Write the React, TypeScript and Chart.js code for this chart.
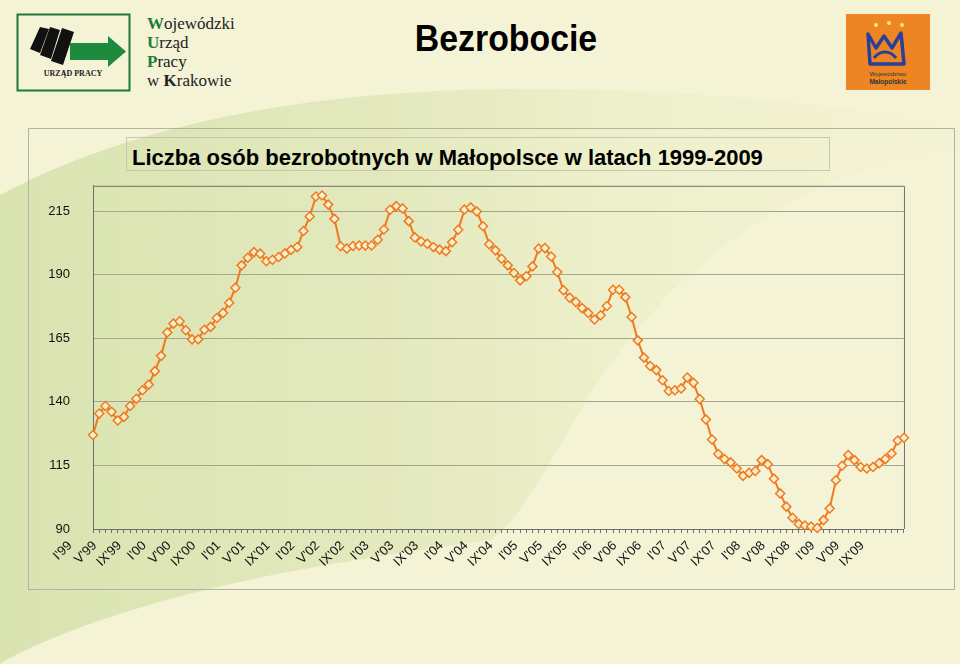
import React, { useEffect, useRef } from "react";
import { Chart, registerables } from "chart.js";

Chart.register(...registerables);

// ---- data ----
const months = ["I", "II", "III", "IV", "V", "VI", "VII", "VIII", "IX", "X", "XI", "XII"];
const years = ["99", "00", "01", "02", "03", "04", "05", "06", "07", "08", "09"];

// number of unemployed (thousands), monthly
const v1999 = [127, 135.4, 138.4, 136.1, 132.7, 134.1, 138.4, 141.2, 144.6, 146.8, 152.1, 158.1];
const v2000 = [167.3, 170.8, 171.7, 168.2, 164.6, 164.6, 168.4, 169.5, 173, 175, 179, 184.9];
const v2001 = [193.7, 196.7, 198.9, 198.3, 195.3, 195.9, 197, 198.4, 199.8, 200.9, 207.2, 212.9];
const v2002 = [220.8, 221.2, 217.6, 212, 201.2, 200.3, 201.3, 201.5, 201.5, 201.5, 203.8, 207.8];
const v2003 = [215.6, 217, 216.1, 211.1, 204.7, 203.1, 202.2, 200.9, 199.9, 199.3, 202.8, 207.7];
const v2004 = [215.7, 216.5, 214.9, 209.1, 202, 199.6, 196.3, 193.7, 190.7, 187.8, 189.4, 193.3];
const v2005 = [200.3, 200.5, 197.2, 191.1, 183.9, 181, 179.3, 176.9, 175, 172.4, 174.1, 177.7];
const v2006 = [184.1, 184.1, 181.2, 173.4, 164.2, 157.4, 154.1, 152.5, 148.5, 144.3, 144.6, 145.3];
const v2007 = [149.6, 147.5, 141.1, 133.1, 125.2, 119.5, 117.5, 116.2, 113.8, 110.9, 112.1, 112.8];
const v2008 = [117.1, 115.5, 109.8, 104, 98.8, 94.4, 92, 91.4, 91, 90.4, 93.5, 98.1];
const v2009 = [109.2, 114.9, 119.1, 117.1, 114.4, 113.8, 114.4, 115.9, 117.5, 119.7, 124.8, 125.9];

const yTicks = [90, 115, 140, 165, 190, 215];
const shownMonths = ["I", "V", "IX"];

const categories: string[] = [];
years.forEach((y) => months.forEach((m) => categories.push(`${m}'${y}`)));
const values = [
  ...v1999, ...v2000, ...v2001, ...v2002, ...v2003, ...v2004,
  ...v2005, ...v2006, ...v2007, ...v2008, ...v2009,
];

const SANS = "'Liberation Sans', Arial, Helvetica, sans-serif";
const SERIF = "'Liberation Serif', 'Times New Roman', serif";

const framePlugin = {
  id: "frame",
  beforeDatasetsDraw(chart: any) {
    const { ctx, chartArea } = chart;
    ctx.save();
    ctx.strokeStyle = "#707070";
    ctx.lineWidth = 1;
    ctx.beginPath();
    ctx.moveTo(chartArea.left, chartArea.top + 0.5);
    ctx.lineTo(chartArea.right + 0.5, chartArea.top + 0.5);
    ctx.lineTo(chartArea.right + 0.5, chartArea.bottom);
    ctx.stroke();
    ctx.restore();
  },
};

function LineChart() {
  const ref = useRef<HTMLCanvasElement | null>(null);
  useEffect(() => {
    if (!ref.current) return;
    const chart = new Chart(ref.current, {
      type: "line",
      data: {
        labels: categories,
        datasets: [
          {
            data: values,
            borderColor: "#EF7A1E",
            borderWidth: 2,
            pointStyle: "rectRot",
            pointRadius: 4.5,
            pointBorderWidth: 1.5,
            pointBackgroundColor: "#FBEFD0",
            pointBorderColor: "#EF7A1E",
            tension: 0,
            clip: false as any,
          },
        ],
      },
      options: {
        responsive: false,
        animation: false,
        layout: { padding: { left: 0, top: 0, right: 7, bottom: 0 } },
        plugins: {
          legend: { display: false },
          tooltip: { enabled: false },
          title: { display: false },
        },
        scales: {
          x: {
            type: "category",
            offset: false,
            grid: { drawOnChartArea: false, drawTicks: true, tickLength: 4, color: "#6E6E6E" },
            border: { color: "#6E6E6E", width: 1 },
            ticks: {
              autoSkip: false,
              maxRotation: 45,
              minRotation: 45,
              padding: 5,
              labelOffset: -23,
              color: "#111",
              font: { family: SANS, size: 13 },
              callback: function (this: any, v: any, i: number) {
                const lab = categories[i];
                const m = lab.split("'")[0];
                return shownMonths.includes(m) ? lab : "";
              },
            },
            afterFit: (s: any) => {
              s.height = 61;
            },
          },
          y: {
            min: 90,
            max: 225,
            afterBuildTicks: (s: any) => {
              s.ticks = yTicks.map((v) => ({ value: v }));
            },
            grid: {
              color: "#A4A690",
              drawTicks: true,
              tickLength: 21,
              tickColor: "rgba(0,0,0,0)",
            },
            border: { color: "#6E6E6E", width: 1 },
            ticks: { padding: 2, color: "#111", font: { family: SANS, size: 13 } },
            afterFit: (s: any) => {
              s.width = 63;
            },
          },
        },
      },
      plugins: [framePlugin],
    });
    return () => chart.destroy();
  }, []);
  return (
    <canvas
      ref={ref}
      width={890}
      height={414}
      style={{ position: "absolute", left: 30, top: 176, width: 890, height: 414 }}
    />
  );
}

export default function App() {
  return (
    <div
      style={{
        position: "fixed",
        left: 0,
        top: 0,
        width: 960,
        height: 664,
        overflow: "hidden",
        background: "#F5F3D6",
        fontFamily: SANS,
      }}
    >
      <svg width={960} height={664} style={{ position: "absolute", left: 0, top: 0 }}>
        <defs>
          <linearGradient id="gband" x1="0" y1="0" x2="1" y2="0">
            <stop offset="0" stopColor="#D9E3B0" />
            <stop offset="0.4" stopColor="#E3E9BD" />
            <stop offset="0.65" stopColor="#EEF0CB" />
            <stop offset="1" stopColor="#F4F2D4" />
          </linearGradient>
        </defs>
        <path
          d="M0,195 C150,115 350,82 600,90 C780,96 890,112 960,130 L960,150 C800,165 660,270 575,420 C540,480 515,525 490,540 C360,558 260,575 185,595 C100,618 40,640 0,664 Z"
          fill="url(#gband)"
        />
      </svg>

      {/* left logo */}
      <svg width={116} height={80} style={{ position: "absolute", left: 16, top: 13 }}>
        <rect x={1.5} y={1.5} width={112} height={76} fill="none" stroke="#1E7A3A" strokeWidth={2} />
        <polygon points="14,36 24,14 33,16 24,40" fill="#111" />
        <polygon points="24,42 34,14 44,17 35,46" fill="#111" />
        <polygon points="35,48 46,15 58,19 47,52" fill="#111" />
        <rect x={54} y={30} width={38} height={17} fill="#1E8A3E" />
        <polygon points="92,23 110,38.5 92,54" fill="#1E8A3E" />
        <text x={57} y={63} textAnchor="middle" fontFamily={SERIF} fontSize={8} fontWeight="bold" fill="#222">
          URZĄD PRACY
        </text>
      </svg>
      <div
        style={{
          position: "absolute",
          left: 147,
          top: 14,
          fontFamily: SERIF,
          fontSize: 17,
          lineHeight: "19px",
          color: "#222",
        }}
      >
        <div><b style={{ color: "#1E7A3A" }}>W</b>ojewódzki</div>
        <div><b style={{ color: "#1E7A3A" }}>U</b>rząd</div>
        <div><b style={{ color: "#1E7A3A" }}>P</b>racy</div>
        <div>w <b>K</b>rakowie</div>
      </div>

      {/* right logo */}
      <svg width={84} height={76} style={{ position: "absolute", left: 846, top: 14 }}>
        <rect x={0} y={0} width={84} height={76} fill="#EE8524" />
        <circle cx={30} cy={11} r={2} fill="#FFE866" />
        <circle cx={43} cy={9} r={2} fill="#FFE866" />
        <circle cx={56} cy={11} r={2} fill="#FFE866" />
        <path
          d="M22,20 L30,34 L38,22 L46,34 L55,19 L58,50 L24,50 Z"
          fill="none"
          stroke="#2A3F9A"
          strokeWidth={3.5}
          strokeLinejoin="round"
        />
        <path d="M28,44 C34,36 44,36 50,44" fill="none" stroke="#2A3F9A" strokeWidth={3} />
        <text x={42} y={62} textAnchor="middle" fontFamily={SANS} fontSize={6} fill="#333">
          Województwo
        </text>
        <text x={42} y={70} textAnchor="middle" fontFamily={SANS} fontSize={6.5} fontWeight="bold" fill="#333">
          Małopolskie
        </text>
      </svg>

      <div
        style={{
          position: "absolute",
          left: 356,
          top: 21,
          width: 300,
          textAlign: "center",
          fontSize: 36,
          lineHeight: "36px",
          fontWeight: "bold",
          color: "#000",
          transform: "scaleX(0.94)",
        }}
      >
        Bezrobocie
      </div>

      {/* chart panel */}
      <div
        style={{
          position: "absolute",
          left: 28,
          top: 128,
          width: 927,
          height: 462,
          border: "1px solid #B3B3A3",
          boxSizing: "border-box",
        }}
      />
      <div
        style={{
          position: "absolute",
          left: 126,
          top: 137,
          width: 704,
          height: 34,
          border: "1px solid #C6C6B6",
          boxSizing: "border-box",
        }}
      />
      <div
        style={{
          position: "absolute",
          left: 132,
          top: 147,
          fontSize: 22,
          lineHeight: "22px",
          fontWeight: "bold",
          color: "#000",
          whiteSpace: "nowrap",
        }}
      >
        Liczba osób bezrobotnych w Małopolsce w latach 1999-2009
      </div>

      <LineChart />
    </div>
  );
}
